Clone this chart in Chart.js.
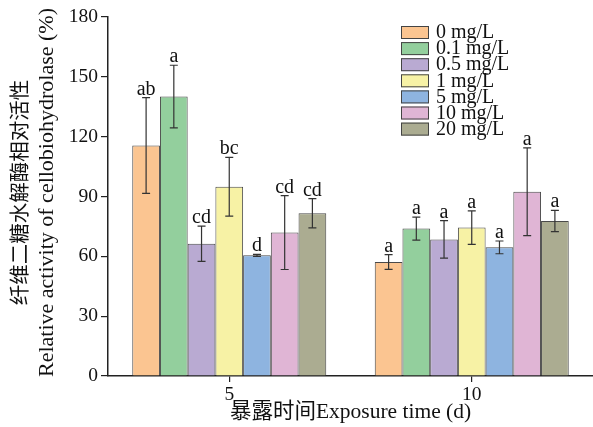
<!DOCTYPE html>
<html>
<head>
<meta charset="utf-8">
<script src="https://cdn.jsdelivr.net/npm/chart.js@4.4.1/dist/chart.umd.min.js"></script>
<style>
  html, body { margin: 0; padding: 0; background: #fff; }
  #wrap { width: 593px; height: 427px; position: relative; }
</style>
</head>
<body>
<div id="wrap"><canvas id="barChart"></canvas></div>
<script>
// Dados
const days = ['5', '10'];
const concentrations = ['0 mg/L', '0.1 mg/L', '0.5 mg/L', '1 mg/L', '5 mg/L', '10 mg/L', '20 mg/L'];

const meanDay5 = [115.6, 140.1, 66.3, 94.9, 60.5, 71.9, 81.6];
const sdDay5 = [24.0, 15.7, 8.8, 14.7, 0.5, 18.5, 7.3];
const lettersDay5 = ['ab', 'a', 'cd', 'bc', 'd', 'cd', 'cd'];

const meanDay10 = [57.2, 73.9, 68.5, 74.4, 64.5, 92.4, 77.7];
const sdDay10 = [3.7, 5.8, 9.4, 8.4, 3.2, 22.0, 5.3];
const lettersDay10 = ['a', 'a', 'a', 'a', 'a', 'a', 'a'];

const yTicks = [0, 30, 60, 90, 120, 150, 180];
const yTitleLines = ['纤维二糖水解酶相对活性', 'Relative activity of cellobiohydrolase (%)'];

const barColors = ['#fbc591', '#93cf9d', '#b9aad2', '#f7f2a5', '#8eb4e0', '#e0b5d5', '#abac91'];

const SERIF = "'Liberation Serif', 'Noto Sans CJK SC', serif";
Chart.defaults.font.family = SERIF;
Chart.defaults.color = '#111';

// barras de erro + letras de significância
const errorBarPlugin = {
    id: 'errorBars',
    afterDatasetsDraw(chart) {
        const ctx = chart.ctx;
        const y = chart.scales.y;
        ctx.save();
        chart.data.datasets.forEach((ds, di) => {
            const meta = chart.getDatasetMeta(di);
            meta.data.forEach((bar, i) => {
                const v = ds.data[i], e = ds.err[i];
                const yTop = y.getPixelForValue(v + e);
                const yBot = y.getPixelForValue(v - e);
                ctx.strokeStyle = '#333';
                ctx.lineWidth = 1.2;
                ctx.beginPath();
                ctx.moveTo(bar.x, yTop); ctx.lineTo(bar.x, yBot);
                ctx.moveTo(bar.x - 4, yTop); ctx.lineTo(bar.x + 4, yTop);
                ctx.moveTo(bar.x - 4, yBot); ctx.lineTo(bar.x + 4, yBot);
                ctx.stroke();
                ctx.fillStyle = '#111';
                ctx.font = '20px ' + SERIF;
                ctx.textAlign = 'center';
                ctx.textBaseline = 'alphabetic';
                ctx.fillText(ds.letters[i], bar.x, yTop - 3);
            });
        });
        ctx.restore();
    }
};

// legenda desenhada à mão (coluna compacta) + título do eixo Y em duas linhas
const legendPlugin = {
    id: 'compactLegend',
    afterDraw(chart) {
        const ctx = chart.ctx;
        const area = chart.chartArea;
        const x0 = area.left + 293;
        const y0 = area.top + 9;
        ctx.save();
        chart.data.datasets.forEach((ds, i) => {
            const top = y0 + i * 16.1;
            ctx.fillStyle = ds.backgroundColor;
            ctx.fillRect(x0, top, 28, 13);
            ctx.strokeStyle = '#444';
            ctx.lineWidth = 1;
            ctx.strokeRect(x0 + 0.5, top + 0.5, 27, 12);
            ctx.fillStyle = '#111';
            ctx.font = '20px ' + SERIF;
            ctx.textAlign = 'left';
            ctx.textBaseline = 'middle';
            ctx.fillText(ds.label, x0 + 35, top + 7);
        });
        ctx.restore();

        // título do eixo Y
        const midY = (area.top + area.bottom) / 2 - 4;
        ctx.save();
        ctx.fillStyle = '#111';
        ctx.textAlign = 'center';
        ctx.textBaseline = 'middle';
        ctx.translate(22, midY);
        ctx.rotate(-Math.PI / 2);
        ctx.font = '20.5px ' + SERIF;
        ctx.fillText(yTitleLines[0], 0, 0);
        ctx.font = '22px ' + SERIF;
        ctx.fillText(yTitleLines[1], 0, 25);
        ctx.restore();
    }
};

const datasets = concentrations.map((c, i) => ({
    label: c,
    data: [meanDay5[i], meanDay10[i]],
    err: [sdDay5[i], sdDay10[i]],
    letters: [lettersDay5[i], lettersDay10[i]],
    backgroundColor: barColors[i],
    borderColor: '#4a4a4a',
    borderWidth: 1
}));

const ctx = document.getElementById('barChart').getContext('2d');
new Chart(ctx, {
    type: 'bar',
    data: { labels: days, datasets: datasets },
    options: {
        responsive: true,
        maintainAspectRatio: false,
        animation: false,
        layout: { padding: { top: 17, right: 0, left: 0, bottom: 0 } },
        categoryPercentage: 0.8,
        barPercentage: 1.0,
        plugins: {
            legend: { display: false },
            tooltip: { enabled: false }
        },
        scales: {
            x: {
                grid: { offset: false, drawOnChartArea: false, drawTicks: true, tickLength: 6, color: '#222', lineWidth: 1.2 },
                border: { color: '#222', width: 1.5 },
                ticks: { font: { size: 19.5 }, color: '#111', padding: 1 },
                title: {
                    display: true,
                    text: '暴露时间Exposure time (d)',
                    font: { size: 21.5, lineHeight: 1.25 },
                    color: '#111',
                    padding: { top: 0, bottom: 1 }
                },
                afterFit: (scale) => { scale.height = 51; }
            },
            y: {
                min: 0,
                max: 180,
                afterBuildTicks: (scale) => { scale.ticks = yTicks.map(v => ({ value: v })); },
                grid: { drawOnChartArea: false, drawTicks: true, tickLength: 7, color: '#222', lineWidth: 1.2 },
                border: { color: '#222', width: 1.5 },
                ticks: { font: { size: 19.5 }, color: '#111', padding: 3 },
                title: { display: false },
                afterFit: (scale) => { scale.width = 108; }
            }
        }
    },
    plugins: [errorBarPlugin, legendPlugin]
});
</script>
</body>
</html>
